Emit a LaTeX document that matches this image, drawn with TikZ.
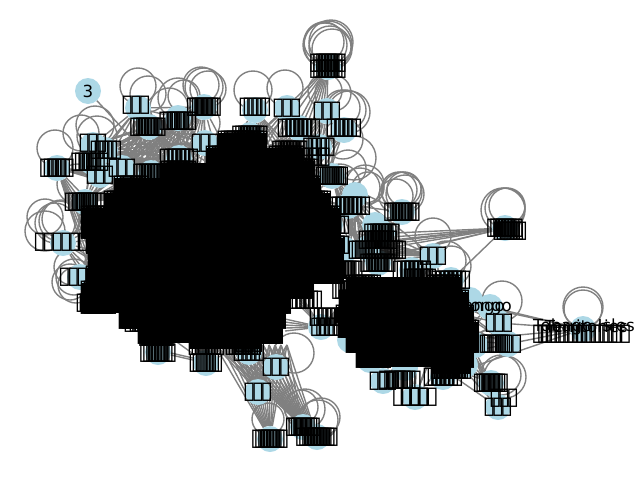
\documentclass[tikz,border=0pt]{standalone}
\usepackage{fontspec}
\usetikzlibrary{backgrounds,calc}
\newfontfamily\djv{DejaVu Sans}
\definecolor{nodeblue}{HTML}{ADD8E6}
\definecolor{edgegray}{HTML}{808080}
\newcommand\tofu{\makebox[8.8pt]{\fontsize{24}{24}\selectfont\symbol{"25AF}}}
\newcommand\ttt{\tofu\tofu\tofu}
\tikzset{
  dot/.style={circle,fill=nodeblue,draw=none,minimum size=26pt,inner sep=0pt},
  lab/.style={inner sep=0pt,font=\djv\fontsize{16.67}{18}\selectfont,text=black},
  edge/.style={draw=edgegray,line width=1.39pt},
  ring/.style={draw=edgegray,line width=1.39pt},
  mass/.style={fill=black,draw=none}
}
\newcommand\massrows{
 133/148/219/266,148/163/207/303,163/178/162/313,178/193/115/320,193/208/105/330,208/223/82/340,223/238/82/340,
 238/253/87/343,253/268/89/343,268/283/87/343,283/298/82/313,298/313/82/290,313/328/120/285,328/343/139/282,343/349/190/260,
 277/292/347/461,292/307/340/468,307/322/337/473,322/337/339/478,337/352/347/478,352/367/357/473,367/374/432/470}
\begin{document}
\begin{tikzpicture}[x=1pt,y=-1pt]
\useasboundingbox (0,0) rectangle (640,480);
\foreach \n/\x/\y in {
 a/88/91,b/138/108,c/149/127,d/178/118,e/204/107,f/255/110,g/287/108,h/327/111,i/344/130,j/328/67,
 k/93/145,l/105/150,m/57/168,o/92/162,p/100/175,q/122/168,r/151/173,s/179/158,t/205/143,u/85/202,
 v/299/128,w/250/135,x/319/147,y/332/176,z/348/206,
 aa/402/212,ab/505/228,ac/433/256,ad/382/233,ae/378/263,af/412/270,ag/451/280,
 ah/583/329,ai/499/323,aj/508/344,ak/491/383,al/498/407,am/415/397,an/383/381,ao/443/377,ap/490/307,
 aq/270/439,ar/303/427,as/317/437,at/258/392,au/276/367,av/206/363,aw/249/352,
 ax/158/352,ay/157/337,az/96/301,ba/63/243,bb/80/277,bc/148/323,bd/321/327,
 c1/355/195,c2/375/225,c3/368/248,c4/345/250,c5/330/225,c6/355/300,c7/350/340,c8/370/360,c9/405/368,c10/470/300,c11/475/345,c12/465/365}
 {\node[dot] (\n) at (\x,\y) {};}
\begin{pgfonlayer}{background}
 \foreach \hn/\hx/\hy in {h1/120/200,h2/150/210,h3/175/190,h4/210/190,h5/240/170,h6/280/180,h7/310/200,h8/120/260,
   h9/160/330,h10/190/335,h13/285/325,h14/350/250,h15/365/262,h16/395/245,h17/350/300,h18/400/300,
   h19/450/300,h20/465/340,h21/430/360,h22/110/300,h23/90/260,h24/100/215,h26/170/180,h27/140/340,h28/300/300,h30/420/285,
   hx1/350/235,hx2/355/240,hx3/360/245,hx4/375/250,hx5/390/255,hx6/345/245}
   {\coordinate (\hn) at (\hx,\hy);}
 \foreach \k in {1,...,13} {\coordinate (hb\k) at ({209+6*\k},345);}
 \foreach \k in {1,...,24} {\coordinate (ht\k) at ({105+10*\k},185);}
 \foreach \k in {1,...,8} {\coordinate (hl\k) at (100,{200+13*\k});}
 % left and top bundles
 \foreach \n in {b,c,d,e,k,l,o,p,q,r,s,t,u,m}
   \foreach \hh in {ht1,ht2,ht3,ht4,ht5,ht6,ht7,ht8,ht9,ht10,ht12,ht14}
     \draw[edge] (\n) -- (\hh);
 \foreach \n in {f,g,h,i,j,v,w,x,y,t}
   \foreach \hh in {ht10,ht12,ht14,ht16,ht17,ht18,ht19,ht20,ht21,ht22}
     \draw[edge] (\n) -- (\hh);
 \foreach \n in {c,d,e,k,l,o,p,q,r,s,t}
   \foreach \hh in {b,c,d,e,k,l,o,p,q,r,s,t,u}
     \draw[edge] (\n) -- (\hh);
 \foreach \n in {ba,bb,az,u,m}
   \foreach \hh in {hl1,hl2,hl3,hl4,hl5,hl6,hl7,hl8}
     \draw[edge] (\n) -- (\hh);
 % bottom fan
 \foreach \n in {aq,ar,as,at,au}
   \foreach \k in {1,...,13}
     \draw[edge] (\n) -- (hb\k);
 \foreach \n in {av,aw} \foreach \hh in {h9,h10,h13} \draw[edge] (\n) -- (\hh);
 % right bundles
 \foreach \n in {aa,ac,z,y,c1}
   \foreach \hh in {h14,h15,h16,h7,hx1,hx2,hx3,hx4,hx5,ht24}
     \draw[edge] (\n) -- (\hh);
 \foreach \hh in {hx1,hx2,hx3,hx4,hx5,hx6,h14,h15,ag} \draw[edge] (ab) -- (\hh);
 \foreach \n in {ag,ac,ap,ai,aj,ak,al,am,an,ao}
   \foreach \hh in {h18,h19,h20,h21,h30}
     \draw[edge] (\n) -- (\hh);
 \foreach \hh in {ai,aj,ap} \draw[edge] (ah) -- (\hh);
 \draw[edge] (ah) -- (h19); \draw[edge] (ah) -- (h20); \draw[edge] (ah) -- (ao);
 \draw[edge] (a) -- (h26);
 \draw[edge] (ax) -- (av); \draw[edge] ([yshift=2pt]ax.center) -- ([yshift=2pt]av.center);
 \foreach \hh in {h13,h28,h17} {\draw[edge] (bd) -- (\hh); \draw[edge] (bd) -- ([yshift=6pt]\hh); \draw[edge] (bd) -- ([yshift=-6pt]\hh);\draw[edge] (bd) -- ([yshift=3pt]\hh);\draw[edge] (bd) -- ([yshift=-3pt]\hh);}
 \foreach \hh in {h27,h9} {\draw[edge] (ax) -- (\hh);}
 % self loops: node / centre offset / radius
 \foreach \n/\dx/\dy/\rr in {
  j/0/-22/24,j/-3/-22/22,j/3/-25/22,j/2/-20/21,j/-4/-25/20,j/4/-18/20,
  b/0/-22/18,b/10/-14/18,c/20/-20/19,d/0/-20/20,d/6/-22/16,e/0/-20/19,e/-3/-22/18,e/4/-18/18,
  f/-2/-20/19,g/-2/-20/18,h/-2/-20/17,h/6/-18/18,i/2/-20/20,i/-2/-22/18,i/5/-18/21,
  k/2/-20/19,k/-12/-12/18,l/-8/-14/20,m/-2/-20/18,u/-8/-18/20,ba/-4/-22/20,ba/-8/-20/20,ba/-2/-24/19,ba/-18/-26/18,
  ba/-18/-12/20,bb/-8/-10/18,bb/-6/0/18,bb/-4/8/18,bb/-10/5/18,
  aa/0/-20/20,aa/-3/-22/18,aa/3/-18/19,aa/-6/-16/17,aa/2/-23/17,ab/0/-20/20,ab/-2/-18/22,ab/2/-22/18,
  ac/0/-20/18,ah/0/-20/19,ah/0/-22/20,ap/12/-6/20,ak/14/-6/21,ak/10/-8/20,z/17/-22/19,z/12/-18/20,z/20/-18/16,y/16/-8/18,ag/-5/-19/20,ag/0/-14/20,
  aq/-2/-20/16,ar/2/-18/20,ar/-2/-20/17,as/4/-20/19,as/1/-17/20,au/18/-14/20,
  t/-4/-20/19,r/-4/-20/19,x/24/-8/20,y/22/-18/22,z/-8/-22/20}
   {\draw[ring] ($(\n)+(\dx,\dy)$) circle (\rr);}
\end{pgfonlayer}
% solid overlapping text mass
\foreach \ya/\yb/\xa/\xb [evaluate=\xa as \xc using \xa+4] in \massrows
  {\fill[mass] (\xa,\ya) rectangle (\xb,\yb);}
% rim of overlapping labels, one pair per row of the mass
\foreach \ya/\yb/\xa/\xb in \massrows
 {\foreach \k in {1,2,3,4}
   {\node[lab] (rl\ya-\xa-\k) at ({\xa+9+3*\k},{(\ya+\yb)/2}) {\ttt};
    \node[lab] (rr\ya-\xb-\k) at ({\xb-9-3*\k},{(\ya+\yb)/2}) {\ttt};}}
% labels
\foreach \n/\x/\y/\c/\sp in {
 b/136/105/1/0,c/148/127/4/3,d/178/121/4/3.5,e/204/107/4/2.5,f/255/107/2/4,g/287/108/1/0,h/327/111/1/0,
 i/344/128/3/4,j/328/63/4/3,jj/328/69/4/3,k/93/143/1/0,l/106/150/2/4,m/57/168/3/3.5,o/90/162/4/3.5,p/100/175/1/0,q/122/168/1/0,r/151/173/4/3,
 s/179/158/4/4,t/205/143/1/0,u/85/202/5/3.5,v/299/128/5/4,w/250/135/4/3,x/319/147/2/5,xx/315/157/2/3,y/332/176/4/2,
 z/349/206/5/4,aa/402/212/4/3,ab/505/228/4/3,abb/510/231/3/3,ac/433/256/1/0,ad/382/233/4/3,adb/378/240/5/3,ae/378/263/4/3,af/412/270/4/4,ag/451/280/4/4,
 ai/499/323/1/0,aj/508/344/1/0,ajb/495/344/3/2,ak/491/383/4/2.5,al/498/407/1/0,alb/504/398/1/0,am/415/397/3/8.5,an/383/381/1/0,anb/400/380/4/5,ao/443/377/4/4,
 aq/270/439/4/3,ar/303/427/4/2.5,as/317/437/6/3,at/258/392/1/0,au/276/367/1/0,av/206/363/3/3,aw/249/352/2/4,awb/249/343/1/0,
 ax/158/353/4/3,ay/157/337/4/3,az/96/303/5/3,bc/148/323/5/5,bd/327/327/2/5,bdb/327/317/3/4,
 r5/330/225/4/4,r6/330/245/4/4,r7/345/270/4/3,r8/350/290/4/3,r16/290/150/4/3,r23/300/168/4/4,r25/305/300/3/4,r28/135/190/3/4,r29/180/172/4/3,r40/365/250/3/3,r41/390/250/3/3,r42/420/278/3/3}
 {\foreach \k in {1,...,\c}
    \node[lab] (t\n-\k) at ({\x+(\k-(\c+1)/2)*\sp},\y) {\ttt};}
\node[lab] (ta) at (88,91) {3};
\node[lab,anchor=west] (long1) at (35,242) {\tofu\tofu\tofu\tofu\tofu\tofu};
\node[lab,anchor=west] (long2) at (60,277) {\tofu\tofu\tofu\tofu\tofu};
\node[lab,anchor=east] (lat1) at (512,307) {Congo};
\node[lab,anchor=east] (lat2) at (505,307) {Tango};
\node[lab,anchor=east] (lat3) at (628,326) {Territories};
\node[lab,anchor=east] (lat4) at (635,327) {Tobago Isles};
\node[lab,anchor=west] (lat5) at (533,334) {\ttt\ttt\ttt\tofu\tofu};
\node[lab,anchor=west] (lat6) at (538,334) {\ttt\ttt\ttt};
\end{tikzpicture}
\end{document}
